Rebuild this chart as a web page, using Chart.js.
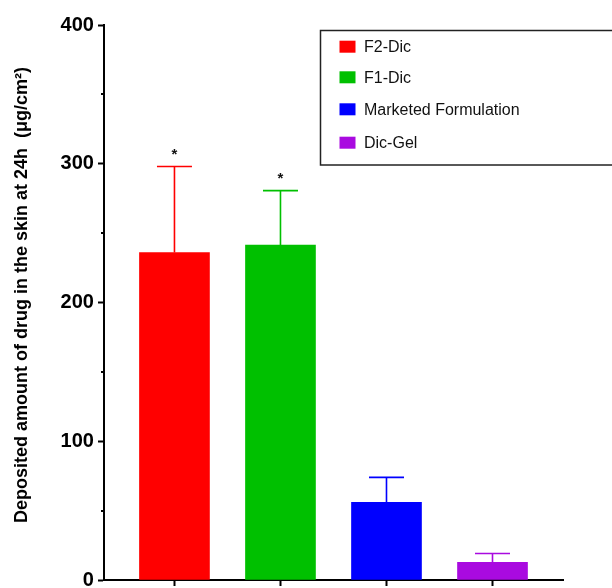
<!DOCTYPE html>
<html>
<head>
<meta charset="utf-8">
<script src="https://cdn.jsdelivr.net/npm/chart.js@4/dist/chart.umd.min.js"></script>
<style>
  html, body { margin: 0; padding: 0; background: #ffffff; }
  #wrap { width: 612px; height: 588px; }
</style>
</head>
<body>
<div id="wrap"><canvas id="c" width="612" height="588"></canvas></div>
<script>
// ---- data ----
const categories = ['F2-Dic', 'F1-Dic', 'Marketed Formulation', 'Dic-Gel'];
const values = [236, 241.3, 56, 12.8];
const errors = [62, 39.3, 18, 6.3];
const significant = [true, true, false, false];
const colors = ['#FF0000', '#00C000', '#0000FF', '#A90AE0'];
const yTicks = [0, 100, 200, 300, 400];
const yMinorTicks = [50, 150, 250, 350];
const yTitle = '   Deposited amount of drug in the skin at 24h  (\u03BCg/cm\u00B2)';

const datasets = categories.map((name, i) => ({
  label: name,
  data: [{ x: i, y: values[i] }],
  backgroundColor: colors[i],
  borderColor: colors[i],
  borderWidth: 0,
  barThickness: 70,
  grouped: false
}));

const extrasPlugin = {
  id: 'extras',
  afterDatasetsDraw(chart) {
    const ctx = chart.ctx;
    const xs = chart.scales.x, ys = chart.scales.y;
    ctx.save();
    // error bars (upper only) and asterisks
    values.forEach((v, i) => {
      const cx = xs.getPixelForValue(i);
      const yTop = ys.getPixelForValue(v);
      const yErr = ys.getPixelForValue(v + errors[i]);
      ctx.strokeStyle = colors[i];
      ctx.lineWidth = 1.6;
      ctx.beginPath();
      ctx.moveTo(cx, yTop);
      ctx.lineTo(cx, yErr);
      ctx.moveTo(cx - 17.5, yErr);
      ctx.lineTo(cx + 17.5, yErr);
      ctx.stroke();
      if (significant[i]) {
        ctx.fillStyle = '#111';
        ctx.font = 'bold 15px "Liberation Sans", Arial, sans-serif';
        ctx.textAlign = 'center';
        ctx.textBaseline = 'middle';
        ctx.fillText('*', cx, yErr - 12);
      }
    });
    // minor ticks on y axis
    ctx.strokeStyle = '#000';
    ctx.lineWidth = 2;
    const ax = chart.chartArea.left;
    yMinorTicks.forEach(t => {
      const y = Math.round(ys.getPixelForValue(t));
      ctx.beginPath();
      ctx.moveTo(ax - 3, y);
      ctx.lineTo(ax, y);
      ctx.stroke();
    });
    // legend box
    ctx.strokeStyle = '#222';
    ctx.lineWidth = 1.5;
    ctx.strokeRect(320.5, 30.5, 320, 134.5);
    const rows = [46.7, 77.3, 109.3, 142.7];
    ctx.font = '16px "Liberation Sans", Arial, sans-serif';
    ctx.textAlign = 'left';
    ctx.textBaseline = 'middle';
    chart.data.datasets.forEach((ds, i) => {
      ctx.fillStyle = ds.backgroundColor;
      ctx.fillRect(339.5, rows[i] - 6, 16, 12);
      ctx.fillStyle = '#111';
      ctx.fillText(ds.label, 364, rows[i] + 1);
    });
    ctx.restore();
  }
};

new Chart(document.getElementById('c'), {
  type: 'bar',
  data: { datasets },
  options: {
    responsive: false,
    devicePixelRatio: 1,
    animation: false,
    layout: { padding: { top: 25, right: 49, bottom: 0, left: 7 } },
    plugins: {
      legend: { display: false },
      tooltip: { enabled: false }
    },
    scales: {
      x: {
        type: 'linear',
        offset: false,
        bounds: 'data',
        min: -0.665,
        max: 3.665,
        afterBuildTicks: (scale) => { scale.ticks = categories.map((c, i) => ({ value: i })); },
        ticks: { display: false },
        grid: { offset: false, drawOnChartArea: false, drawTicks: true, tickLength: 6, tickWidth: 2, tickColor: '#000' },
        border: { display: true, color: '#000', width: 2 }
      },
      y: {
        min: 0,
        max: 400,
        afterBuildTicks: (scale) => { scale.ticks = yTicks.map(v => ({ value: v })); },
        ticks: {
          color: '#000',
          padding: 4,
          font: { family: '"Liberation Sans", Arial, sans-serif', size: 20, weight: 'bold', lineHeight: 0.4 }
        },
        grid: { drawOnChartArea: false, drawTicks: true, tickLength: 6, tickWidth: 2, tickColor: '#000' },
        border: { display: true, color: '#000', width: 2 },
        title: {
          display: true,
          text: yTitle,
          color: '#000',
          padding: { top: 4, bottom: 24 },
          font: { family: '"Liberation Sans", Arial, sans-serif', size: 18, weight: 'bold', lineHeight: 1.2 }
        }
      }
    }
  },
  plugins: [extrasPlugin]
});
</script>
</body>
</html>
